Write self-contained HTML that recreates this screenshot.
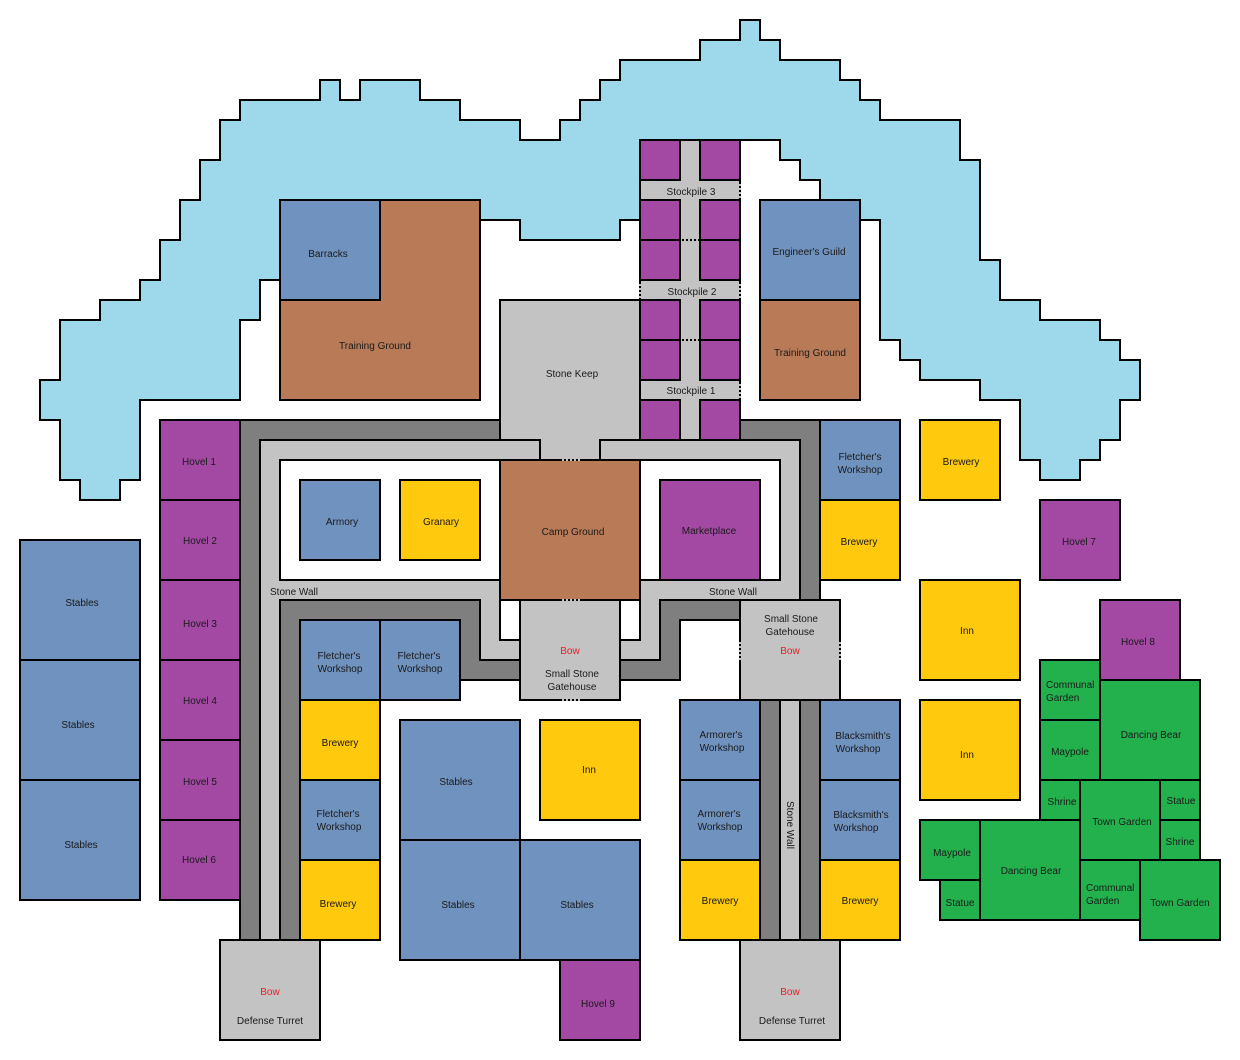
<!DOCTYPE html>
<html><head><meta charset="utf-8"><style>
html,body{margin:0;padding:0;background:#fff;}
svg{display:block;}
text{font-family:"Liberation Sans",sans-serif;font-size:10px;fill:#1a1a1a;text-anchor:middle;}
.r{fill:#ED1C24;}
.l{text-anchor:start;}
</style></head><body>
<svg width="1240" height="1060" viewBox="0 0 1240 1060" xmlns="http://www.w3.org/2000/svg">
<g stroke="#000" stroke-width="2">
<!-- water -->
<polygon fill="#9DD9EA" points="240,100 320,100 320,80 340,80 340,100 360,100 360,80 420,80 420,100 460,100 460,120 520,120 520,140 560,140 560,120 580,120 580,100 600,100 600,80 620,80 620,60 700,60 700,40 740,40 740,20 760,20 760,40 780,40 780,60 840,60 840,80 860,80 860,100 880,100 880,120 960,120 960,160 980,160 980,260 1000,260 1000,300 1040,300 1040,320 1100,320 1100,340 1120,340 1120,360 1140,360 1140,400 1120,400 1120,440 1100,440 1100,460 1080,460 1080,480 1040,480 1040,460 1020,460 1020,400 980,400 980,380 920,380 920,360 900,360 900,340 880,340 880,220 860,220 860,200 820,200 820,180 800,180 800,160 780,160 780,140 740,140 640,140 640,220 620,220 620,240 520,240 520,220 480,220 480,200 280,200 280,280 260,280 260,320 240,320 240,400 140,400 140,480 120,480 120,500 80,500 80,480 60,480 60,420 40,420 40,380 60,380 60,320 100,320 100,300 140,300 140,280 160,280 160,240 180,240 180,200 200,200 200,160 220,160 220,120 240,120"/>

<!-- walls -->
<polygon fill="#7F7F7F" points="240,420 820,420 820,600 740,600 740,620 680,620 680,680 460,680 460,620 300,620 300,940 240,940"/>
<polygon fill="#C3C3C3" points="260,440 800,440 800,600 660,600 660,660 480,660 480,600 280,600 280,940 260,940"/>
<rect x="280" y="460" width="500" height="120" fill="#fff"/>
<rect x="500" y="600" width="20" height="40" fill="#fff"/>
<rect x="620" y="600" width="20" height="40" fill="#fff"/>

<!-- keep -->
<polygon fill="#C3C3C3" points="500,300 640,300 640,440 600,440 600,460 540,460 540,440 500,440"/>

<!-- stockpile column -->
<rect x="640" y="140" width="100" height="300" fill="#C3C3C3"/>
<g fill="#A349A4">
<rect x="640" y="140" width="40" height="40"/><rect x="700" y="140" width="40" height="40"/>
<rect x="640" y="200" width="40" height="40"/><rect x="700" y="200" width="40" height="40"/>
<rect x="640" y="240" width="40" height="40"/><rect x="700" y="240" width="40" height="40"/>
<rect x="640" y="300" width="40" height="40"/><rect x="700" y="300" width="40" height="40"/>
<rect x="640" y="340" width="40" height="40"/><rect x="700" y="340" width="40" height="40"/>
<rect x="640" y="400" width="40" height="40"/><rect x="700" y="400" width="40" height="40"/>
</g>

<!-- top buildings -->
<rect x="280" y="200" width="200" height="200" fill="#B97A57"/>
<rect x="280" y="200" width="100" height="100" fill="#7092BE"/>
<rect x="760" y="200" width="100" height="100" fill="#7092BE"/>
<rect x="760" y="300" width="100" height="100" fill="#B97A57"/>

<!-- hovels left -->
<g fill="#A349A4">
<rect x="160" y="420" width="80" height="80"/>
<rect x="160" y="500" width="80" height="80"/>
<rect x="160" y="580" width="80" height="80"/>
<rect x="160" y="660" width="80" height="80"/>
<rect x="160" y="740" width="80" height="80"/>
<rect x="160" y="820" width="80" height="80"/>
<rect x="1040" y="500" width="80" height="80"/>
<rect x="1100" y="600" width="80" height="80"/>
<rect x="560" y="960" width="80" height="80"/>
<rect x="660" y="480" width="100" height="100"/>
</g>
<g fill="#7092BE">
<rect x="20" y="540" width="120" height="120"/>
<rect x="20" y="660" width="120" height="120"/>
<rect x="20" y="780" width="120" height="120"/>
<rect x="300" y="480" width="80" height="80"/>
<rect x="820" y="420" width="80" height="80"/>
<rect x="300" y="620" width="80" height="80"/>
<rect x="380" y="620" width="80" height="80"/>
<rect x="300" y="780" width="80" height="80"/>
<rect x="400" y="720" width="120" height="120"/>
<rect x="400" y="840" width="120" height="120"/>
<rect x="520" y="840" width="120" height="120"/>
<rect x="680" y="700" width="80" height="80"/>
<rect x="680" y="780" width="80" height="80"/>
<rect x="820" y="700" width="80" height="80"/>
<rect x="820" y="780" width="80" height="80"/>
</g>
<g fill="#FFC90E">
<rect x="400" y="480" width="80" height="80"/>
<rect x="820" y="500" width="80" height="80"/>
<rect x="920" y="420" width="80" height="80"/>
<rect x="300" y="700" width="80" height="80"/>
<rect x="300" y="860" width="80" height="80"/>
<rect x="540" y="720" width="100" height="100"/>
<rect x="680" y="860" width="80" height="80"/>
<rect x="820" y="860" width="80" height="80"/>
<rect x="920" y="580" width="100" height="100"/>
<rect x="920" y="700" width="100" height="100"/>
</g>
<rect x="500" y="460" width="140" height="140" fill="#B97A57"/>

<!-- right wall segment -->
<rect x="760" y="700" width="60" height="240" fill="#7F7F7F"/>
<rect x="780" y="700" width="20" height="240" fill="#C3C3C3"/>

<!-- gatehouses & turrets -->
<g fill="#C3C3C3">
<rect x="520" y="600" width="100" height="100"/>
<rect x="740" y="600" width="100" height="100"/>
<rect x="220" y="940" width="100" height="100"/>
<rect x="740" y="940" width="100" height="100"/>
</g>

<!-- green -->
<g fill="#22B14C">
<rect x="1040" y="660" width="60" height="60"/>
<rect x="1040" y="720" width="60" height="60"/>
<rect x="1100" y="680" width="100" height="100"/>
<rect x="1040" y="780" width="40" height="40"/>
<rect x="1080" y="780" width="80" height="80"/>
<rect x="1160" y="780" width="40" height="40"/>
<rect x="1160" y="820" width="40" height="40"/>
<rect x="920" y="820" width="60" height="60"/>
<rect x="940" y="880" width="40" height="40"/>
<rect x="980" y="820" width="100" height="100"/>
<rect x="1080" y="860" width="60" height="60"/>
<rect x="1140" y="860" width="80" height="80"/>
</g>
</g>

<!-- dotted doorways -->
<g stroke-width="2">
<g stroke="#C3C3C3">
<line x1="560" y1="460" x2="580" y2="460"/>
<line x1="560" y1="600" x2="580" y2="600"/>
<line x1="560" y1="700" x2="580" y2="700"/>
<line x1="740" y1="640" x2="740" y2="660"/>
<line x1="840" y1="640" x2="840" y2="660"/>
<line x1="740" y1="182" x2="740" y2="198"/>
<line x1="640" y1="282" x2="640" y2="298"/>
<line x1="740" y1="282" x2="740" y2="298"/>
<line x1="740" y1="382" x2="740" y2="398"/>
</g>
<g stroke="#000" stroke-dasharray="2 2">
<line x1="560" y1="460" x2="580" y2="460"/>
<line x1="560" y1="600" x2="580" y2="600"/>
<line x1="560" y1="700" x2="580" y2="700"/>
<line x1="740" y1="640" x2="740" y2="660"/>
<line x1="840" y1="640" x2="840" y2="660"/>
<line x1="740" y1="182" x2="740" y2="198"/>
<line x1="640" y1="282" x2="640" y2="298"/>
<line x1="740" y1="282" x2="740" y2="298"/>
<line x1="740" y1="382" x2="740" y2="398"/>
<line x1="682" y1="240" x2="700" y2="240"/>
<line x1="682" y1="340" x2="700" y2="340"/>
</g>
</g>

<!-- labels -->
<g dy="0.35em">
<text x="328" y="257">Barracks</text>
<text x="375" y="349">Training Ground</text>
<text x="572" y="377">Stone Keep</text>
<text x="691" y="195">Stockpile 3</text>
<text x="692" y="295">Stockpile 2</text>
<text x="691" y="394">Stockpile 1</text>
<text x="809" y="255">Engineer's Guild</text>
<text x="810" y="356">Training Ground</text>
<text x="199" y="465">Hovel 1</text>
<text x="200" y="544">Hovel 2</text>
<text x="200" y="627">Hovel 3</text>
<text x="200" y="704">Hovel 4</text>
<text x="200" y="785">Hovel 5</text>
<text x="199" y="863">Hovel 6</text>
<text x="82" y="606">Stables</text>
<text x="78" y="728">Stables</text>
<text x="81" y="848">Stables</text>
<text x="342" y="525">Armory</text>
<text x="441" y="525">Granary</text>
<text x="573" y="535">Camp Ground</text>
<text x="709" y="534">Marketplace</text>
<text x="860" y="460">Fletcher's</text>
<text x="860" y="473">Workshop</text>
<text x="859" y="545">Brewery</text>
<text x="961" y="465">Brewery</text>
<text x="1079" y="545">Hovel 7</text>
<text class="l" x="270" y="595">Stone Wall</text>
<text x="733" y="595">Stone Wall</text>
<text x="791" y="622">Small Stone</text>
<text x="790" y="635">Gatehouse</text>
<text class="r" x="790" y="654">Bow</text>
<text class="r" x="570" y="654">Bow</text>
<text x="572" y="677">Small Stone</text>
<text x="572" y="690">Gatehouse</text>
<text x="339" y="659">Fletcher's</text>
<text x="340" y="672">Workshop</text>
<text x="419" y="659">Fletcher's</text>
<text x="420" y="672">Workshop</text>
<text x="340" y="746">Brewery</text>
<text x="338" y="817">Fletcher's</text>
<text x="339" y="830">Workshop</text>
<text x="338" y="907">Brewery</text>
<text x="456" y="785">Stables</text>
<text x="458" y="908">Stables</text>
<text x="577" y="908">Stables</text>
<text x="589" y="773">Inn</text>
<text x="598" y="1007">Hovel 9</text>
<text class="r" x="270" y="995">Bow</text>
<text x="270" y="1024">Defense Turret</text>
<text class="r" x="790" y="995">Bow</text>
<text x="792" y="1024">Defense Turret</text>
<text x="721" y="738">Armorer's</text>
<text x="722" y="751">Workshop</text>
<text x="719" y="817">Armorer's</text>
<text x="720" y="830">Workshop</text>
<text x="720" y="904">Brewery</text>
<text x="863" y="739">Blacksmith's</text>
<text x="858" y="752">Workshop</text>
<text x="861" y="818">Blacksmith's</text>
<text x="856" y="831">Workshop</text>
<text x="860" y="904">Brewery</text>
<text x="0" y="0" transform="translate(787,825) rotate(90)">Stone Wall</text>
<text x="967" y="634">Inn</text>
<text x="967" y="758">Inn</text>
<text x="1138" y="645">Hovel 8</text>
<text class="l" x="1046" y="688">Communal</text>
<text class="l" x="1046" y="701">Garden</text>
<text x="1070" y="755">Maypole</text>
<text x="1151" y="738">Dancing Bear</text>
<text x="1062" y="805">Shrine</text>
<text x="1122" y="825">Town Garden</text>
<text x="1181" y="804">Statue</text>
<text x="1180" y="845">Shrine</text>
<text x="952" y="856">Maypole</text>
<text x="1031" y="874">Dancing Bear</text>
<text x="960" y="906">Statue</text>
<text class="l" x="1086" y="891">Communal</text>
<text class="l" x="1086" y="904">Garden</text>
<text x="1180" y="906">Town Garden</text>
</g>
</svg>
</body></html>
